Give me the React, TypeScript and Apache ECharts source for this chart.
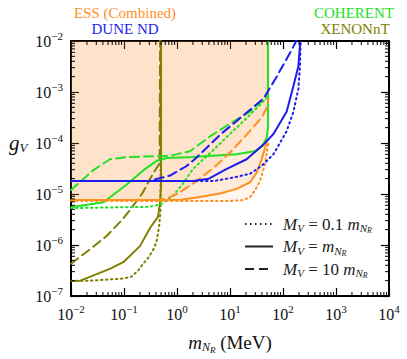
import React, { useEffect, useRef } from "react";
import * as echarts from "echarts";

const X_MIN = 1e-2, X_MAX = 1e4, Y_MIN = 1e-7, Y_MAX = 1e-2;
const xDecades = [-2, -1, 0, 1, 2, 3];
const yDecades = [-7, -6, -5, -4, -3];
const minorMultipliers = [2, 3, 4, 5, 6, 7, 8, 9];

// ESS (Combined)
const essDotted = [[0.01, 7.3e-6], [1, 7.3e-6], [10, 7.3e-6], [18, 7.6e-6], [24, 8.7e-6], [29.5, 1.17e-5], [37, 1.8e-5], [45.7, 3.8e-5], [50, 6.9e-5], [53, 1.0e-4]];
const essSolid = [[0.01, 7.6e-6], [1.2, 7.7e-6], [2.7, 8.7e-6], [6.5, 1.02e-5], [13.4, 1.26e-5], [24, 1.7e-5], [31.7, 2.6e-5], [39.6, 4.8e-5], [45.7, 7.9e-5], [50, 1.1e-4]];
const essDashed = [[0.01, 7.6e-6], [0.45, 7.6e-6], [0.7, 8.5e-6], [1, 1.0e-5], [2, 1.6e-5], [5, 3.3e-5], [10, 6.5e-5], [20, 1.4e-4], [40, 3.2e-4], [50, 5e-4], [53, 7.4e-4]];
const essEdgeX = 55;

// DUNE ND
const duneDotted = [[0.01, 1.8e-5], [5, 1.8e-5], [11.5, 2.1e-5], [24, 2.5e-5], [40, 3.6e-5], [66, 6e-5], [117, 1.7e-4], [157, 4.1e-4], [195, 1.15e-3], [209, 3.2e-3], [215, 1e-2]];
const duneSolid = [[0.01, 1.8e-5], [2, 1.8e-5], [4, 2e-5], [8.7, 3.1e-5], [20.6, 4.8e-5], [42.7, 9.3e-5], [66, 1.5e-4], [117, 4.1e-4], [157, 1.3e-3], [195, 3.2e-3], [212, 1e-2]];
const duneDashed = [[0.01, 1.8e-5], [0.3, 1.8e-5], [0.74, 2.3e-5], [1.5, 3.5e-5], [2.3, 5.1e-5], [6.5, 1.45e-4], [17.9, 3.5e-4], [42.7, 7.4e-4], [76, 2e-3], [135, 5.8e-3], [178, 1e-2]];

// COHERENT
const cohDotted = [[0.01, 5.3e-6], [0.3, 5.6e-6], [0.5, 6.3e-6], [0.85, 9.3e-6], [1.3, 1.6e-5], [2, 3.1e-5], [5, 7.5e-5], [10, 1.5e-4], [20, 3e-4], [35, 5.3e-4], [50, 7.8e-4]];
const cohSolid = [[0.01, 5.5e-6], [0.041, 6.9e-6], [0.11, 1.5e-5], [0.23, 2.9e-5], [0.42, 4.5e-5], [0.64, 5.1e-5], [2, 5.3e-5], [13.4, 6e-5], [30, 7e-5], [40, 8.5e-5], [49, 1.26e-4], [52, 2e-4], [52, 1e-2]];
const cohDashed = [[0.01, 1.2e-5], [0.026, 2.9e-5], [0.054, 4.8e-5], [0.11, 5.3e-5], [0.74, 5.6e-5], [1.76, 6.9e-5], [4.2, 1.35e-4], [10, 2.4e-4], [23.8, 4.1e-4], [50, 8.2e-4]];

// XENONnT
const xenDotted = [[0.01, 2e-7], [0.023, 2e-7], [0.097, 2.2e-7], [0.14, 2.4e-7], [0.186, 3.2e-7], [0.23, 4.3e-7], [0.29, 5.7e-7], [0.36, 8.3e-7], [0.41, 1.15e-6], [0.46, 2.3e-6], [0.49, 5e-6], [0.49, 1e-2]];
const xenSolid = [[0.01, 1.97e-7], [0.015, 2e-7], [0.054, 3.4e-7], [0.097, 4.6e-7], [0.2, 9.5e-7], [0.31, 2.15e-6], [0.44, 3.6e-6], [0.48, 7e-6], [0.5, 1.5e-5], [0.5, 1e-2]];
const xenDashed = [[0.01, 4.3e-7], [0.023, 8.3e-7], [0.047, 1.5e-6], [0.097, 3.3e-6], [0.13, 4.9e-6], [0.22, 1.02e-5], [0.36, 2.6e-5], [0.47, 4e-5], [0.48, 1e-2]];

const ORANGE = "#ff8f1f";
const BLUE = "#1c1cef";
const GREEN = "#22e022";
const OLIVE = "#808000";
const FONT = "'Liberation Serif', 'Times New Roman', serif";

const DOT = [1.5, 3.5];
const DASH = [9, 5];

const xMinor: number[] = [];
xDecades.forEach((d) => minorMultipliers.forEach((m) => xMinor.push(m * Math.pow(10, d))));
const yMinor: number[] = [];
yDecades.forEach((d) => minorMultipliers.forEach((m) => yMinor.push(m * Math.pow(10, d))));

function pow10Label(v: number) {
  const e = Math.round(Math.log10(v));
  return "{b|10}{s|" + (e < 0 ? "\u2212" + -e : String(e)) + "}";
}
const powRich = {
  b: { fontFamily: FONT, fontSize: 16, color: "#111" },
  s: { fontFamily: FONT, fontSize: 11, color: "#111", padding: [0, 0, 11, 0] },
};

function lineSeries(data: number[][], color: string, dash: any, width = 2) {
  return {
    type: "line",
    data,
    symbol: "none",
    z: 3,
    lineStyle: { color, width, type: dash, cap: dash === "solid" ? "butt" : "round" },
  };
}
function shadeSeries(data: number[][]) {
  return {
    type: "line",
    data: [...data, [essEdgeX, data[data.length - 1][1]], [essEdgeX, Y_MAX]],
    symbol: "none",
    z: 1,
    lineStyle: { width: 0 },
    areaStyle: { color: ORANGE, opacity: 0.085, origin: "end" },
  };
}

const MINOR_LEN = 4;

function titleText(text: string, cx: number, cy: number, fill: string) {
  return {
    type: "text",
    x: cx,
    y: cy,
    style: { text, fill, fontFamily: FONT, fontSize: 15, align: "center", verticalAlign: "middle" },
  };
}

export default function App() {
  const ref = useRef<HTMLDivElement>(null);
  useEffect(() => {
    const chart = echarts.init(ref.current!, undefined, { renderer: "svg" });
    const axisCommon = {
      type: "log",
      logBase: 10,
      axisLine: { show: true, onZero: false, lineStyle: { color: "#000", width: 2 } },
      axisTick: { show: true, inside: true, length: 8, lineStyle: { color: "#000", width: 1.2 } },
      splitLine: { show: false },
      minorTick: { show: false },
    };
    const legendRich = {
      i: { fontFamily: FONT, fontStyle: "italic", fontSize: 17, fill: "#222" },
      t: { fontFamily: FONT, fontSize: 17, fill: "#222" },
      s: { fontFamily: FONT, fontStyle: "italic", fontSize: 11, fill: "#222", padding: [8, 0, 0, 0] },
      r: { fontFamily: FONT, fontStyle: "italic", fontSize: 8, fill: "#222", padding: [13, 0, 0, 0] },
    };
    chart.setOption({
      animation: false,
      backgroundColor: "#fff",
      textStyle: { fontFamily: FONT },
      grid: { left: 71, top: 41, right: 18, bottom: 58, containLabel: false },
      xAxis: [
        {
          ...axisCommon,
          min: X_MIN,
          max: X_MAX,
          position: "bottom",
          axisLabel: { formatter: pow10Label, rich: powRich, margin: 7, fontFamily: FONT },
          name: "{i|m}{n|N}{r|R}{t| (MeV)}",
          nameLocation: "middle",
          nameGap: 34,
          nameTextStyle: {
            fontFamily: FONT,
            rich: {
              i: { fontFamily: FONT, fontStyle: "italic", fontSize: 19, color: "#111" },
              n: { fontFamily: FONT, fontStyle: "italic", fontSize: 12, color: "#111", padding: [9, 0, 0, 0] },
              r: { fontFamily: FONT, fontStyle: "italic", fontSize: 9, color: "#111", padding: [15, 0, 0, 0] },
              t: { fontFamily: FONT, fontSize: 19, color: "#111" },
            },
          },
        },
        { ...axisCommon, min: X_MIN, max: X_MAX, position: "top", axisLabel: { show: false } },
      ],
      yAxis: [
        {
          ...axisCommon,
          min: Y_MIN,
          max: Y_MAX,
          position: "left",
          axisLabel: { formatter: pow10Label, rich: powRich, margin: 8, fontFamily: FONT },
        },
        { ...axisCommon, min: Y_MIN, max: Y_MAX, position: "right", axisLabel: { show: false } },
      ],
      graphic: [
        titleText("ESS (Combined)", 125, 13, ORANGE),
        titleText("DUNE ND", 125, 29, BLUE),
        titleText("COHERENT", 354, 13, GREEN),
        titleText("XENONnT", 355, 29, OLIVE),
        {
          type: "text",
          x: 9,
          y: 143,
          style: {
            text: "{g|g}{v|V}",
            verticalAlign: "middle",
            fontFamily: FONT,
            rich: {
              g: { fontFamily: FONT, fontStyle: "italic", fontSize: 21, fill: "#111" },
              v: { fontFamily: FONT, fontStyle: "italic", fontSize: 13, fill: "#111", padding: [9, 0, 0, 0] },
            },
          },
        },
        { type: "line", shape: { x1: 245, y1: 224, x2: 273, y2: 224 }, style: { stroke: "#222", lineWidth: 2, lineDash: DOT } },
        { type: "line", shape: { x1: 245, y1: 246.5, x2: 273, y2: 246.5 }, style: { stroke: "#222", lineWidth: 2 } },
        { type: "line", shape: { x1: 245, y1: 269, x2: 273, y2: 269 }, style: { stroke: "#222", lineWidth: 2, lineDash: DASH } },
        ...[
          ["= 0.1 ", 224],
          ["= ", 246.5],
          ["= 10 ", 269],
        ].map(([mid, y]) => ({
          type: "text",
          x: 283,
          y: y as number,
          style: {
            text: `{i|M}{s|V}{t| ${mid}}{i|m}{s|N}{r|R}`,
            verticalAlign: "middle",
            fontFamily: FONT,
            rich: legendRich,
          },
        })),
      ],
      series: [
        shadeSeries(essDotted),
        shadeSeries(essSolid),
        shadeSeries(essDashed),
        lineSeries(xenDotted, OLIVE, DOT, 2),
        lineSeries(xenSolid, OLIVE, "solid", 2),
        lineSeries(xenDashed, OLIVE, DASH, 2),
        lineSeries(cohDotted, GREEN, DOT),
        lineSeries(cohSolid, GREEN, "solid"),
        lineSeries(cohDashed, GREEN, DASH),
        lineSeries(essDotted, ORANGE, DOT),
        lineSeries(essSolid, ORANGE, "solid"),
        lineSeries(essDashed, ORANGE, DASH),
        lineSeries(duneDotted, BLUE, DOT),
        lineSeries(duneSolid, BLUE, "solid"),
        lineSeries(duneDashed, BLUE, DASH),
        {
          type: "custom",
          clip: false,
          z: 5,
          data: xMinor.map((v) => [v, Y_MIN]),
          encode: { x: 0, y: 1 },
          renderItem: (params: any, api: any) => {
            const v = api.value(0);
            const pb = api.coord([v, Y_MIN]);
            const pt = api.coord([v, Y_MAX]);
            const st = { stroke: "#000", lineWidth: 1 };
            return {
              type: "group",
              children: [
                { type: "line", shape: { x1: pb[0], y1: pb[1], x2: pb[0], y2: pb[1] - MINOR_LEN }, style: st },
                { type: "line", shape: { x1: pt[0], y1: pt[1], x2: pt[0], y2: pt[1] + MINOR_LEN }, style: st },
              ],
            };
          },
        },
        {
          type: "custom",
          clip: false,
          z: 5,
          data: yMinor.map((v) => [X_MIN, v]),
          encode: { x: 0, y: 1 },
          renderItem: (params: any, api: any) => {
            const v = api.value(1);
            const pl = api.coord([X_MIN, v]);
            const pr = api.coord([X_MAX, v]);
            const st = { stroke: "#000", lineWidth: 1 };
            return {
              type: "group",
              children: [
                { type: "line", shape: { x1: pl[0], y1: pl[1], x2: pl[0] + MINOR_LEN, y2: pl[1] }, style: st },
                { type: "line", shape: { x1: pr[0], y1: pr[1], x2: pr[0] - MINOR_LEN, y2: pr[1] }, style: st },
              ],
            };
          },
        },
      ],
    });
    return () => chart.dispose();
  }, []);
  return <div ref={ref} style={{ width: 407, height: 359, position: "absolute", left: 0, top: 0 }} />;
}
